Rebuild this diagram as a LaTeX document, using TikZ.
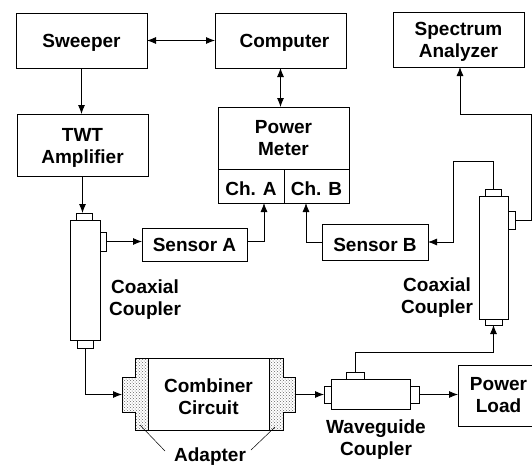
\documentclass[tikz,border=0pt]{standalone}
\usepackage{fontspec}
\setmainfont{Liberation Sans}
\usetikzlibrary{arrows.meta,patterns}
\tikzset{
	blockbox/.style={draw,inner sep=0pt,outer sep=0pt,align=center,font=\fontsize{19}{22}\selectfont\bfseries},
	tabbox/.style={draw,inner sep=0pt,outer sep=0pt},
	caption/.style={inner sep=0pt,align=center,font=\fontsize{19}{22}\selectfont\bfseries},
	adapterfill/.style={draw,pattern=crosshatch dots,pattern color=black!60},
	wire/.style={line width=0.8pt,->},
	leader/.style={line width=0.5pt}
}
\begin{document}
\begin{tikzpicture}[>={Latex[length=9pt,width=7pt]},x=1pt,y=-1pt,line width=0.9pt]
\useasboundingbox (0,0) rectangle (532,466);
\def\kasten#1#2#3#4#5#6#7{
	\node[#1,minimum width={(#4-#2)*1pt},minimum height={(#5-#3)*1pt}] (#6)
		at ({(#2+#4)/2},{(#3+#5)/2}) {#7};
}
\def\tiefer{\rule{0pt}{18.5pt}}

\draw[adapterfill] (148,358) -- (135,358) -- (135,377) -- (122,377) -- (122,412)
	-- (135,412) -- (135,430) -- (148,430) -- cycle;
\draw[adapterfill] (269,358) -- (283,358) -- (283,377) -- (295,377) -- (295,412)
	-- (283,412) -- (283,430) -- (269,430) -- cycle;

\kasten{blockbox}{16}{13}{147}{68}{sweeper}{\tiefer Sweeper}
\kasten{blockbox}{215}{13}{346}{68}{computer}{\tiefer\hspace{8pt}Computer}
\kasten{blockbox}{393}{12}{524}{67}{spectrum}{\tiefer Spectrum\\Analyzer}
\kasten{blockbox}{17}{114}{148}{176}{twt}{\tiefer TWT\\Amplifier}
\kasten{blockbox}{218}{107}{349}{169}{meter}{Power\\Meter}
\kasten{blockbox}{218}{169}{284}{203}{chA}{\tiefer Ch. A}
\kasten{blockbox}{284}{169}{349}{203}{chB}{\tiefer Ch. B}
\kasten{blockbox}{142}{228}{247}{261}{sensA}{Sensor A}
\kasten{blockbox}{322}{224}{428}{260}{sensB}{\tiefer Sensor B}
\kasten{blockbox}{148}{358}{269}{430}{combiner}{\tiefer Combiner\\Circuit}
\kasten{blockbox}{458}{365}{533}{426}{load}{\hspace{6pt}Power\\\hspace{6pt}Load}

\kasten{tabbox}{70}{220}{100}{340}{coaxL}{}
\kasten{tabbox}{76}{213}{92}{220}{coaxLtop}{}
\kasten{tabbox}{100}{232}{106}{251}{coaxLside}{}
\kasten{tabbox}{77}{340}{93}{348}{coaxLbot}{}

\kasten{tabbox}{479}{196}{508}{319}{coaxR}{}
\kasten{tabbox}{485}{189}{501}{196}{coaxRtop}{}
\kasten{tabbox}{508}{211}{515}{229}{coaxRside}{}
\kasten{tabbox}{485}{319}{502}{325}{coaxRbot}{}

\kasten{tabbox}{331}{379}{410}{409}{guide}{}
\kasten{tabbox}{324}{386}{331}{403}{guideL}{}
\kasten{tabbox}{410}{386}{419}{403}{guideR}{}
\kasten{tabbox}{346}{372}{364}{379}{guideTop}{}

\node[caption] (capL) at (145,300) {Coaxial\\Coupler};
\node[caption] (capR) at (437,298) {Coaxial\\Coupler};
\node[caption] (capG) at (376,440) {Waveguide\\Coupler};
\node[caption] (capA) at (210,457) {Adapter};

\coordinate (adL) at (122,394.5);
\coordinate (adR) at (295,394.5);
\coordinate (adLin) at (140,425);
\coordinate (adLout) at (165,451);
\coordinate (adRin) at (275,427);
\coordinate (adRout) at (251,450);
\coordinate (inA) at (264,203);
\coordinate (inB) at (306,203);
\coordinate (feedB) at (453,161);
\coordinate (riser) at (531,114);
\coordinate (inSpec) at (460,67);
\coordinate (hop) at (355,352);

\draw[wire,<->] (sweeper.east) -- (computer.west);
\draw[wire,<->] (computer.south) -- (computer.south |- meter.north);
\draw[wire] (sweeper.south) -- (sweeper.south |- twt.north);
\draw[wire] (twt.south) -- (twt.south |- coaxLtop.north);
\draw[wire] (coaxLside.east) -- (coaxLside.east -| sensA.west);
\draw[wire] (sensA.east |- coaxLside.east) -| (inA);
\draw[wire] (sensB.west) -| (inB);
\draw[wire] (coaxRtop.north) |- (feedB) |- (sensB.east);
\draw[wire] (coaxRside.east) -| (riser) -| (inSpec);
\draw[wire] (coaxLbot.south) |- (adL);
\draw[wire] (adR) -- (adR -| guideL.west);
\draw[wire] (guideR.east) -- (guideR.east -| load.west);
\draw[wire] (guideTop.north) |- (hop -| coaxRbot.south) -- (coaxRbot.south);

\draw[leader] (adLin) -- (adLout);
\draw[leader] (adRin) -- (adRout);

\end{tikzpicture}
\end{document}
